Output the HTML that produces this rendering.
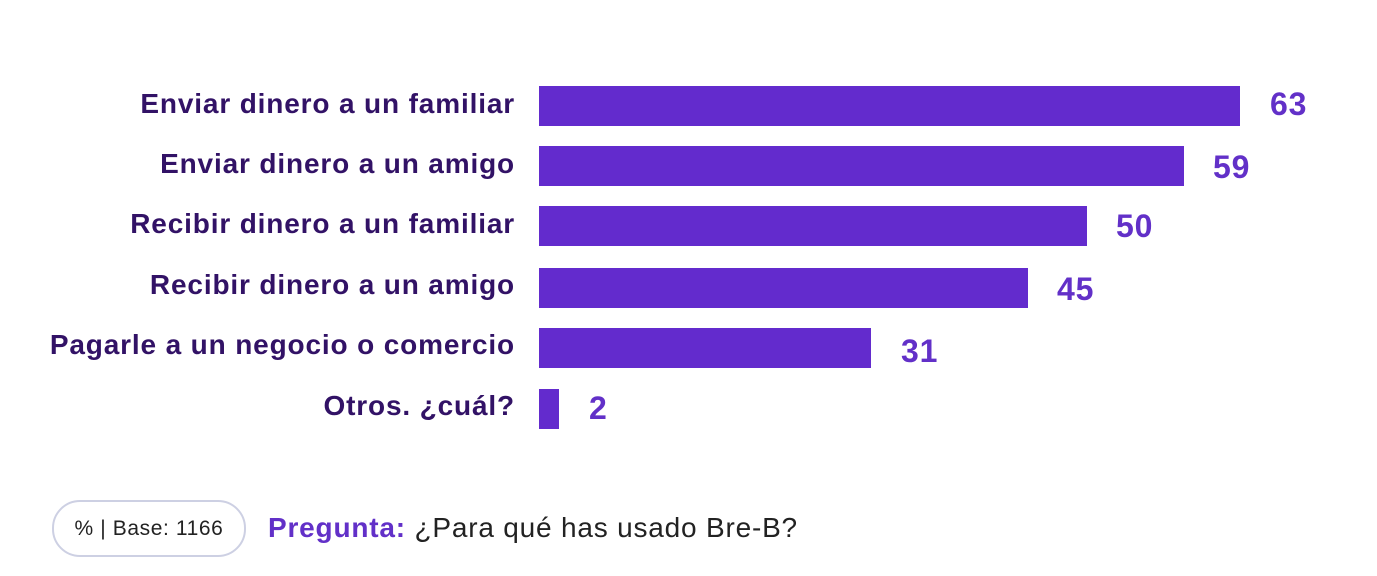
<!DOCTYPE html>
<html><head><meta charset="utf-8"><style>
body{margin:0;width:1377px;height:576px;background:#fff;position:relative;overflow:hidden;font-family:"Liberation Sans",sans-serif}
.l{position:absolute;right:862px;font-weight:bold;font-size:28px;letter-spacing:0.85px;color:#321266;line-height:40px;white-space:nowrap}
.b{position:absolute;left:539px;height:40px;background:#632bcd}
.v{position:absolute;font-weight:bold;font-size:32px;letter-spacing:0.8px;color:#6230c8;line-height:40px}
.pill{position:absolute;left:52px;top:500px;width:190px;height:53px;border:2px solid #cdd0e3;border-radius:28px;font-size:21px;letter-spacing:0.6px;line-height:53px;text-align:center;color:#222}
.q{position:absolute;left:268px;top:508px;font-size:28px;letter-spacing:0.8px;color:#222;line-height:40px;white-space:nowrap}
.q b{color:#6230c8}
</style></head><body>
<div class="l" style="top:84px">Enviar dinero a un familiar</div>
<div class="b" style="top:86px;width:701px"></div><div class="v" style="left:1270px;top:84px">63</div>
<div class="l" style="top:144px">Enviar dinero a un amigo</div>
<div class="b" style="top:146px;width:645px"></div><div class="v" style="left:1213px;top:147px">59</div>
<div class="l" style="top:204px">Recibir dinero a un familiar</div>
<div class="b" style="top:206px;width:548px"></div><div class="v" style="left:1116px;top:206px">50</div>
<div class="l" style="top:265px">Recibir dinero a un amigo</div>
<div class="b" style="top:268px;width:489px"></div><div class="v" style="left:1057px;top:269px">45</div>
<div class="l" style="top:325px">Pagarle a un negocio o comercio</div>
<div class="b" style="top:328px;width:332px"></div><div class="v" style="left:901px;top:331px">31</div>
<div class="l" style="top:386px">Otros. ¿cuál?</div>
<div class="b" style="top:389px;width:20px"></div><div class="v" style="left:589px;top:388px">2</div>
<div class="pill">% | Base: 1166</div>
<div class="q"><b>Pregunta:</b> ¿Para qué has usado Bre-B?</div>
</body></html>
